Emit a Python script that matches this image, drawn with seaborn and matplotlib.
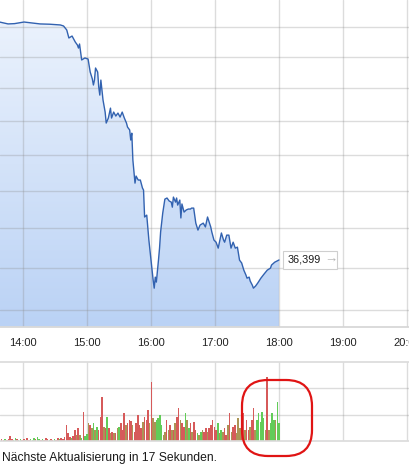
import numpy as np
import pandas as pd
import matplotlib
matplotlib.use("Agg")
import matplotlib.pyplot as plt
import matplotlib.dates as mdates
from matplotlib.colors import LinearSegmentedColormap
from matplotlib.patches import FancyBboxPatch, Rectangle
from matplotlib.ticker import NullLocator
from matplotlib.transforms import IdentityTransform
import seaborn as sns

sns.set_theme(style="white")
plt.rcParams["font.family"] = ["Liberation Sans", "DejaVu Sans"]

# ── data ─────────────────────────────────────────────────────────────────────
DAY = "2024-03-15 "

price_time = [
    "13:38", "13:46", "13:52", "14:01", "14:09", "14:16", "14:25", "14:35", "14:38", "14:41",
    "14:43", "14:46", "14:49", "14:51", "14:52", "14:53", "14:55", "14:58", "15:01", "15:03",
    "15:05", "15:06", "15:07", "15:08", "15:10", "15:11", "15:12", "15:13", "15:15", "15:17",
    "15:18", "15:20", "15:22", "15:23", "15:25", "15:27", "15:29", "15:31", "15:33", "15:35",
    "15:37", "15:38", "15:40", "15:41", "15:42", "15:43", "15:45", "15:46", "15:48", "15:50",
    "15:52", "15:53", "15:54", "15:56", "15:58", "16:00", "16:02", "16:03", "16:04", "16:05",
    "16:07", "16:08", "16:09", "16:11", "16:13", "16:15", "16:17", "16:19", "16:20", "16:21",
    "16:23", "16:24", "16:25", "16:27", "16:28", "16:29", "16:31", "16:33", "16:35", "16:37",
    "16:38", "16:40", "16:42", "16:44", "16:46", "16:49", "16:51", "16:53", "16:56", "16:57",
    "16:59", "17:01", "17:03", "17:04", "17:06", "17:08", "17:09", "17:11", "17:13", "17:15",
    "17:17", "17:19", "17:21", "17:23", "17:25", "17:27", "17:29", "17:30", "17:32", "17:33",
    "17:35", "17:36", "17:38", "17:40", "17:43", "17:46", "17:49", "17:52", "17:53", "17:56",
    "18:00",
]
price_value = [
    50.31, 50.18, 50.20, 50.31, 50.24, 50.18, 50.16, 50.11, 50.04, 49.77,
    49.23, 49.36, 48.96, 48.76, 48.56, 48.83, 47.78, 47.91, 47.84, 47.00,
    46.56, 46.18, 46.49, 47.26, 47.00, 46.05, 45.55, 46.49, 45.25, 44.51,
    43.85, 44.15, 44.75, 44.15, 44.51, 44.27, 44.45, 44.21, 44.51, 44.15,
    43.85, 43.61, 43.44, 42.85, 43.25, 41.70, 40.41, 40.80, 40.58, 40.58,
    40.14, 40.03, 38.59, 38.69, 37.40, 36.39, 35.42, 35.03, 35.56, 35.32,
    36.39, 36.99, 37.81, 38.80, 39.54, 39.60, 39.44, 39.38, 39.11, 39.65,
    39.38, 39.60, 39.22, 39.49, 38.54, 39.28, 38.85, 38.96, 39.01, 39.01,
    39.06, 39.06, 38.27, 37.91, 38.17, 38.27, 38.07, 38.59, 38.07, 37.81,
    37.40, 37.29, 36.99, 37.25, 37.76, 37.40, 37.29, 37.65, 37.65, 36.99,
    37.29, 36.99, 37.04, 36.39, 36.25, 35.90, 35.66, 35.51, 35.56, 35.37,
    35.17, 35.03, 35.13, 35.27, 35.51, 35.71, 35.90, 36.00, 36.15, 36.29,
    36.399,
]

vol_start, vol_end = "13:40", "18:00"
vol_height = [
    0.8, 0.4, 0.8, 0.4, 0.8, 1.9, 0.8, 0.4, 1.1, 0.8, 0.4, 0.8, 0.4, 0.8, 0.4, 1.1, 0.4, 0.8,
    0.4, 1.1, 0.8, 1.5, 0.8, 0.4, 0.8, 0.4, 1.1, 0.8, 0.4, 0.8, 0.4, 0.8, 0.4, 1.1, 0.8, 1.1,
    0.8, 1.5, 6.1, 3.0, 1.5, 1.1, 1.9, 4.2, 2.3, 4.9, 2.3, 1.1, 11.0, 1.9, 2.7, 6.8,
    6.1, 4.9, 6.8, 4.2, 5.3, 4.2, 9.1, 16.7, 5.3, 4.9, 9.1, 4.9, 3.0, 3.4, 3.0, 3.0, 4.9, 5.3,
    6.8, 4.2, 10.6, 6.1, 6.8, 8.0, 7.6, 6.1, 3.4, 6.8, 9.9, 6.1, 4.9, 7.2, 9.1, 8.0,
    11.8, 6.8, 22.4, 8.7, 7.2, 8.0, 8.7, 9.9, 6.1, 2.3, 3.4, 8.0, 4.2, 6.1, 4.2, 4.2, 6.8, 9.1,
    12.5, 8.0, 6.8, 5.3, 10.6, 8.0, 4.9, 6.8, 3.4, 7.2, 4.2, 3.0, 2.3, 3.4, 4.2, 3.4, 4.9, 3.4,
    4.9, 6.1, 8.0, 5.3, 4.2, 6.8,
    3.0, 4.2, 3.4, 4.9, 2.3, 6.1, 10.6, 3.4, 5.3, 6.1, 3.0, 8.7, 4.9, 8.0, 10.6, 4.2, 8.0, 4.2,
    5.3, 8.0, 12.5, 4.2, 8.0, 10.6, 7.2, 11.0, 8.7, 4.2, 24.3, 4.2, 6.8, 10.6, 8.0, 8.0, 14.8, 6.8,
]
# r = falling, g = rising, o = mixed (one string per row of vol_height)
vol_dir = "".join([
    "rrgrrrrggrggrrgrrg",
    "ggrggrgrrrgrrgrrgr",
    "rrrrrgrrorogrggo",
    "rogogrrrorgrororog",
    "rrrorrrorrrrrorr",
    "rorooggggoorororor",
    "rorrgogrorrgogorro",
    "rrrrrg",
    "ogorrororrooorrorr",
    "orrogggggorogggogg",
])

hour_ticks = ["14:00", "15:00", "16:00", "17:00", "18:00", "19:00", "20:00"]
price_grid = [34, 36, 38, 40, 42, 44, 46, 48, 50]
vol_grid = [10, 20]
last_label = "36,399"
footer = "Nächste Aktualisierung in 17 Sekunden."

# ── frames ───────────────────────────────────────────────────────────────────
df_price = pd.DataFrame({
    "time": pd.to_datetime([DAY + t for t in price_time]),
    "value": price_value,
})
df_vol = pd.DataFrame({
    "time": pd.date_range(DAY + vol_start, DAY + vol_end, periods=len(vol_height)),
    "volume": vol_height,
    "dir": list(vol_dir),
})
vol_colors = {"r": "#d65a5a", "g": "#62cc58", "o": "#ab9455"}

x_lo = pd.Timestamp(DAY + "13:38:26")
x_hi = pd.Timestamp(DAY + "20:02:48")
hours = pd.to_datetime([DAY + h for h in hour_ticks])
grid_kw = dict(color="#8c8c8c", alpha=0.3, linewidth=1.0)

fig = plt.figure(figsize=(4.1, 4.7), dpi=100)
ax = fig.add_axes([0, 1 - 326.5 / 470, 1, 326.5 / 470])
axv = fig.add_axes([0, 1 - 441 / 470, 1, 79 / 470])

# ── price panel ──────────────────────────────────────────────────────────────
ax.set_yscale("log")
ax.set_xlim(x_lo, x_hi)
ax.set_ylim(33.25, 51.84)
ax.set_autoscale_on(False)

fill = ax.fill_between(df_price["time"], df_price["value"], 33.25, color="none", lw=0)
cmap = LinearSegmentedColormap.from_list("fill", ["#bad2f5", "#eef4fd"])
grad = np.linspace(0, 1, 256).reshape(-1, 1)
im = ax.imshow(grad, cmap=cmap, extent=[0, 1, 0, 1], transform=ax.transAxes,
               origin="lower", aspect="auto", zorder=1)
im.set_clip_path(fill.get_paths()[0], ax.transData)

sns.lineplot(data=df_price, x="time", y="value", ax=ax, color="#3262b0", lw=1.0, zorder=3)

ax.set_xticks(hours)
ax.xaxis.set_major_formatter(mdates.DateFormatter("%H:%M"))
ax.set_yticks(price_grid)
ax.yaxis.set_minor_locator(NullLocator())
ax.set_xlabel("")
ax.set_ylabel("")
ax.tick_params(left=False, labelleft=False, bottom=False, labelsize=8, labelcolor="#222222", pad=2.5)
ax.grid(True, **grid_kw)
ax.set_axisbelow("line")
for side in ["top", "left", "right"]:
    ax.spines[side].set_visible(False)
ax.spines["bottom"].set_color("#d6d6d6")

# last value label
fig.canvas.draw()
px, py = ax.transData.transform((mdates.date2num(df_price["time"].iloc[-1]), price_value[-1]))
fig.patches.append(Rectangle((px + 4, py - 9), 54, 18, transform=IdentityTransform(),
                             facecolor="white", edgecolor="#cfcfcf", lw=0.8))
fig.text(px + 9, py, last_label, transform=IdentityTransform(), ha="left", va="center",
         fontsize=7.8, color="#1a1a1a")
fig.text(px + 45, py, "→", transform=IdentityTransform(), ha="left", va="center",
         fontsize=9.5, color="#b5b5b5", fontweight="bold")

# ── volume panel ─────────────────────────────────────────────────────────────
axv.bar(df_vol["time"], df_vol["volume"], width=1.45 / 1440,
        color=[vol_colors[d] for d in df_vol["dir"]], lw=0, zorder=2)
axv.set_xlim(x_lo, x_hi)
axv.set_ylim(0, 30)
axv.set_xticks(hours)
axv.set_yticks(vol_grid)
axv.tick_params(left=False, labelleft=False, bottom=False, labelbottom=False)
axv.grid(True, **grid_kw)
for side in ["left", "right"]:
    axv.spines[side].set_visible(False)
for side in ["top", "bottom"]:
    axv.spines[side].set_color("#dcdcdc")

# hand-drawn highlight and footer
fig.patches.append(FancyBboxPatch((242, 14), 70, 76, boxstyle="round,pad=0,rounding_size=26",
                                  transform=IdentityTransform(), fill=False,
                                  edgecolor="#e01414", lw=1.6))
fig.text(2 / 410, 1 - 458 / 470, footer, ha="left", va="center", fontsize=8.7, color="#1a1a1a")

fig.savefig("out.png", dpi=100)
